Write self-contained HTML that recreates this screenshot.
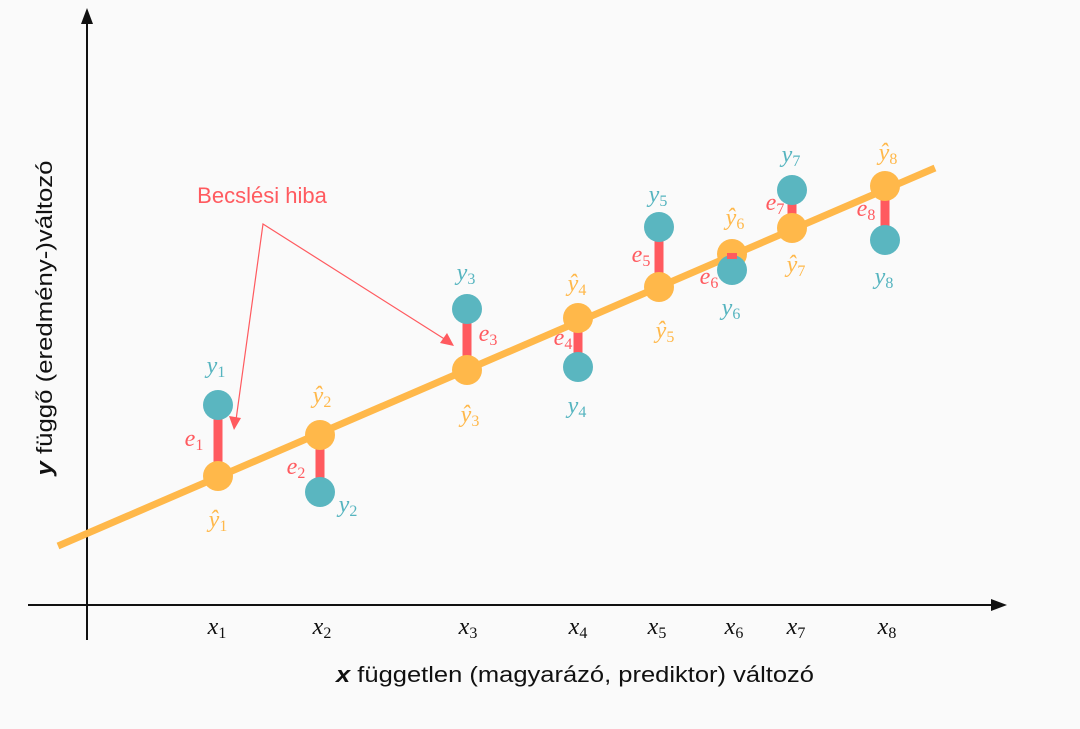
<!DOCTYPE html>
<html><head><meta charset="utf-8"><style>
html,body{margin:0;padding:0;background:#fafafa;}
svg{display:block}
.m{font-family:"Liberation Serif",serif;font-style:italic;font-size:24px;text-anchor:middle}
.s{font-size:16px;font-style:normal}
.o{fill:#ffb84a}.t{fill:#55b4bf}.r{fill:#ff5a5f}.k{fill:#111}
</style></head><body>
<svg width="1080" height="729" viewBox="0 0 1080 729" xmlns="http://www.w3.org/2000/svg">
<rect width="1080" height="729" fill="#fafafa"/>
<line x1="87" y1="640" x2="87" y2="20" stroke="#111" stroke-width="2"/>
<polygon points="87,8 81,24 93,24" fill="#111"/>
<line x1="28" y1="605" x2="995" y2="605" stroke="#111" stroke-width="2"/>
<polygon points="1007,605 991,599 991,611" fill="#111"/>
<line x1="58" y1="546" x2="935" y2="168" stroke="#ffb84a" stroke-width="7"/>
<g stroke="#ff5a5f" stroke-width="9">
<line x1="218" y1="405" x2="218" y2="476"/>
<line x1="320" y1="435" x2="320" y2="492"/>
<line x1="467" y1="309" x2="467" y2="370"/>
<line x1="578" y1="318" x2="578" y2="367"/>
<line x1="659" y1="227" x2="659" y2="287"/>
<line x1="792" y1="190" x2="792" y2="228"/>
<line x1="885" y1="186" x2="885" y2="240"/>
</g>
<g fill="#ffb84a">
<circle cx="218" cy="476" r="15"/><circle cx="320" cy="435" r="15"/><circle cx="467" cy="370" r="15"/><circle cx="578" cy="318" r="15"/><circle cx="659" cy="287" r="15"/><circle cx="732" cy="254" r="15"/><circle cx="792" cy="228" r="15"/><circle cx="885" cy="186" r="15"/>
</g>
<g fill="#5ab6c0">
<circle cx="218" cy="405" r="15"/><circle cx="320" cy="492" r="15"/><circle cx="467" cy="309" r="15"/><circle cx="578" cy="367" r="15"/><circle cx="659" cy="227" r="15"/><circle cx="732" cy="270" r="15"/><circle cx="792" cy="190" r="15"/><circle cx="885" cy="240" r="15"/>
</g>
<rect x="727" y="253" width="10" height="6" fill="#ff5a5f"/>
<text x="262" y="203" font-family="Liberation Sans,sans-serif" font-size="22" fill="#ff5a5f" text-anchor="middle">Becslési hiba</text>
<g stroke="#ff5a5f" stroke-width="1.2" fill="none">
<polyline points="236,420 263,224 446,340"/>
</g>
<polygon points="234,430 229,416 241,418" fill="#ff5a5f"/>
<polygon points="454,346 440,343 447,333" fill="#ff5a5f"/>
<g class="m">
<text x="216" y="373" class="t">y<tspan class="s" dy="4">1</tspan></text>
<text x="218" y="527" class="o">ŷ<tspan class="s" dy="4">1</tspan></text>
<text x="194" y="446" class="r">e<tspan class="s" dy="4">1</tspan></text>
<text x="348" y="512" class="t">y<tspan class="s" dy="4">2</tspan></text>
<text x="322" y="403" class="o">ŷ<tspan class="s" dy="4">2</tspan></text>
<text x="296" y="474" class="r">e<tspan class="s" dy="4">2</tspan></text>
<text x="466" y="280" class="t">y<tspan class="s" dy="4">3</tspan></text>
<text x="470" y="422" class="o">ŷ<tspan class="s" dy="4">3</tspan></text>
<text x="488" y="341" class="r">e<tspan class="s" dy="4">3</tspan></text>
<text x="577" y="413" class="t">y<tspan class="s" dy="4">4</tspan></text>
<text x="577" y="291" class="o">ŷ<tspan class="s" dy="4">4</tspan></text>
<text x="563" y="345" class="r">e<tspan class="s" dy="4">4</tspan></text>
<text x="658" y="202" class="t">y<tspan class="s" dy="4">5</tspan></text>
<text x="665" y="338" class="o">ŷ<tspan class="s" dy="4">5</tspan></text>
<text x="641" y="262" class="r">e<tspan class="s" dy="4">5</tspan></text>
<text x="731" y="315" class="t">y<tspan class="s" dy="4">6</tspan></text>
<text x="735" y="225" class="o">ŷ<tspan class="s" dy="4">6</tspan></text>
<text x="709" y="284" class="r">e<tspan class="s" dy="4">6</tspan></text>
<text x="791" y="162" class="t">y<tspan class="s" dy="4">7</tspan></text>
<text x="796" y="272" class="o">ŷ<tspan class="s" dy="4">7</tspan></text>
<text x="775" y="210" class="r">e<tspan class="s" dy="4">7</tspan></text>
<text x="884" y="284" class="t">y<tspan class="s" dy="4">8</tspan></text>
<text x="888" y="160" class="o">ŷ<tspan class="s" dy="4">8</tspan></text>
<text x="866" y="216" class="r">e<tspan class="s" dy="4">8</tspan></text>
<text x="217" y="634" class="k">x<tspan class="s" dy="4">1</tspan></text>
<text x="322" y="634" class="k">x<tspan class="s" dy="4">2</tspan></text>
<text x="468" y="634" class="k">x<tspan class="s" dy="4">3</tspan></text>
<text x="578" y="634" class="k">x<tspan class="s" dy="4">4</tspan></text>
<text x="657" y="634" class="k">x<tspan class="s" dy="4">5</tspan></text>
<text x="734" y="634" class="k">x<tspan class="s" dy="4">6</tspan></text>
<text x="796" y="634" class="k">x<tspan class="s" dy="4">7</tspan></text>
<text x="887" y="634" class="k">x<tspan class="s" dy="4">8</tspan></text>
</g>
<text x="575" y="682" font-family="Liberation Sans,sans-serif" font-size="22" fill="#111" text-anchor="middle" textLength="478" lengthAdjust="spacingAndGlyphs"><tspan font-weight="bold" font-style="italic">x</tspan> független (magyarázó, prediktor) változó</text>
<text transform="translate(52,318) rotate(-90)" font-family="Liberation Sans,sans-serif" font-size="22" fill="#111" text-anchor="middle" textLength="315" lengthAdjust="spacingAndGlyphs"><tspan font-weight="bold" font-style="italic">y</tspan> függő (eredmény-)változó</text>
</svg>
</body></html>
